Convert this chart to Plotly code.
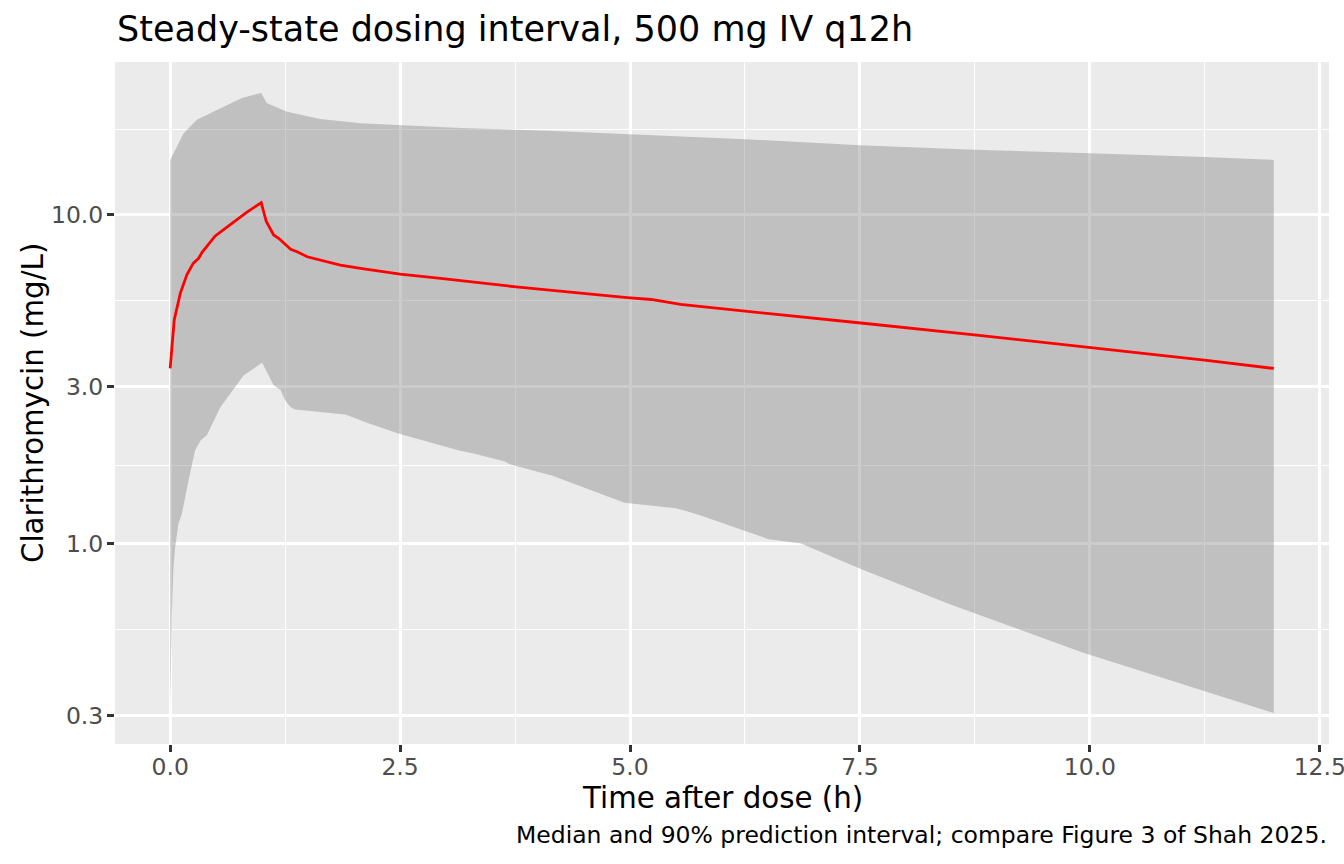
import numpy as np
import plotly.graph_objects as go

# median concentration (mg/L) vs time after dose (h)
t_med = [0.0, 0.044, 0.11, 0.18, 0.25, 0.31, 0.345, 0.49, 0.65, 0.835, 0.99,
         1.045, 1.125, 1.18, 1.31, 1.38, 1.49, 1.67, 1.85, 2.07, 2.50, 2.94,
         3.76, 4.97, 5.23, 5.55, 6.26, 6.75, 6.93, 7.51, 8.77, 10.02, 11.27, 12.0]
conc_med = [3.41, 4.79, 5.77, 6.56, 7.12, 7.38, 7.68, 8.63, 9.33, 10.2, 10.9,
            9.55, 8.69, 8.49, 7.86, 7.73, 7.46, 7.26, 7.04, 6.88, 6.61, 6.41,
            6.04, 5.60, 5.53, 5.34, 5.10, 4.93, 4.88, 4.69, 4.31, 3.95, 3.61, 3.41]

# upper bound of 90% PI
t_hi = [0.0, 0.073, 0.145, 0.29, 0.47, 0.78, 0.99, 1.05, 1.27, 1.63, 2.07,
        3.16, 4.17, 5.0, 6.25, 7.5, 8.75, 10.0, 11.25, 12.0]
conc_hi = [14.7, 16.2, 17.7, 19.5, 20.6, 22.7, 23.5, 21.9, 20.6, 19.6, 19.0,
           18.4, 18.0, 17.6, 17.0, 16.3, 15.8, 15.4, 15.0, 14.7]

# lower bound of 90% PI
t_lo = [0.0, 0.007, 0.018, 0.036, 0.054, 0.09, 0.127, 0.20, 0.27, 0.33, 0.40,
        0.545, 0.69, 0.80, 1.0, 1.125, 1.20, 1.25, 1.31, 1.36, 1.905, 2.14,
        2.49, 2.72, 3.14, 3.30, 3.63, 3.70, 4.15, 4.94, 5.50, 5.59, 5.76,
        6.51, 6.86, 7.51, 8.47, 9.92, 12.0]
conc_lo = [0.305, 0.48, 0.61, 0.85, 0.975, 1.15, 1.23, 1.56, 1.92, 2.06, 2.14,
           2.60, 2.96, 3.25, 3.55, 3.03, 2.93, 2.73, 2.60, 2.56, 2.47, 2.33,
           2.16, 2.07, 1.92, 1.88, 1.78, 1.74, 1.61, 1.33, 1.28, 1.26, 1.22,
           1.03, 1.00, 0.837, 0.655, 0.466, 0.305]

x_ticks = [0, 2.5, 5, 7.5, 10, 12.5]
x_ticktext = ["0.0", "2.5", "5.0", "7.5", "10.0", "12.5"]
y_ticks = [0.3, 1, 3, 10]
y_ticktext = ["0.3", "1.0", "3.0", "10.0"]

FONT = "DejaVu Sans"

# ggplot-style 5% expansion
xmin, xmax = 0.0, 12.0
xpad = 0.05 * (xmax - xmin)
lmin = np.log10(min(conc_lo))
lmax = np.log10(max(conc_hi))
lpad = 0.05 * (lmax - lmin)

# minor breaks halfway between majors in log space
lt = np.log10(y_ticks)
ext = np.append(lt, lt[-1] + (lt[1] - lt[0]))
y_minor = list(10 ** ((ext[:-1] + ext[1:]) / 2))
x_minor = [1.25, 3.75, 6.25, 8.75, 11.25]

fig = go.Figure()

fig.add_trace(go.Scatter(
    x=t_lo + t_hi[::-1],
    y=conc_lo + conc_hi[::-1],
    fill="toself",
    fillcolor="rgba(127,127,127,0.4)",
    line=dict(width=0),
    mode="lines",
    hoverinfo="skip",
    showlegend=False,
))

fig.add_trace(go.Scatter(
    x=t_med, y=conc_med,
    mode="lines",
    line=dict(color="red", width=2.8),
    showlegend=False,
))

axis_common = dict(
    showline=False,
    zeroline=False,
    automargin=False,
    gridcolor="white",
    gridwidth=2.8,
    ticks="outside",
    ticklen=7,
    tickwidth=2.8,
    tickcolor="#333333",
    tickfont=dict(family=FONT, size=23.5, color="#4D4D4D"),
    ticklabeloverflow="allow",
)

fig.update_xaxes(
    range=[xmin - xpad, xmax + xpad],
    tickvals=x_ticks, ticktext=x_ticktext,
    minor=dict(tickvals=x_minor, showgrid=True, gridcolor="white", gridwidth=1.4, ticks=""),
    ticklabelstandoff=-5,
    **axis_common,
)
fig.update_yaxes(
    type="log",
    range=[lmin - lpad, lmax + lpad],
    tickvals=y_ticks, ticktext=y_ticktext,
    minor=dict(tickvals=y_minor, showgrid=True, gridcolor="white", gridwidth=1.4, ticks=""),
    ticklabelstandoff=-1,
    **axis_common,
)

fig.update_layout(
    width=1344, height=864,
    margin=dict(l=115, r=15, t=62, b=120),
    paper_bgcolor="white",
    plot_bgcolor="#EBEBEB",
    font=dict(family=FONT, color="black"),
    annotations=[
        dict(text="Steady-state dosing interval, 500 mg IV q12h",
             xref="paper", yref="paper", x=0, y=1, xanchor="left", yanchor="middle",
             yshift=33, showarrow=False, font=dict(family=FONT, size=35, color="black")),
        dict(text="Time after dose (h)",
             xref="paper", yref="paper", x=0.5, y=0, xanchor="center", yanchor="middle",
             yshift=-54, showarrow=False, font=dict(family=FONT, size=29.3, color="black")),
        dict(text="Clarithromycin (mg/L)", textangle=-90,
             xref="paper", yref="paper", x=0, y=0.5, xanchor="center", yanchor="middle",
             xshift=-82, showarrow=False, font=dict(family=FONT, size=29.3, color="black")),
        dict(text="Median and 90% prediction interval; compare Figure 3 of Shah 2025.",
             xref="paper", yref="paper", x=1, y=0, xanchor="right", yanchor="middle",
             yshift=-91, showarrow=False, font=dict(family=FONT, size=23.5, color="black")),
    ],
)

# drop the page's default body margin so the figure sits at the window corner
fig.write_html("out.html", config={"displayModeBar": False},
               post_script="document.body.style.margin = '0';")
